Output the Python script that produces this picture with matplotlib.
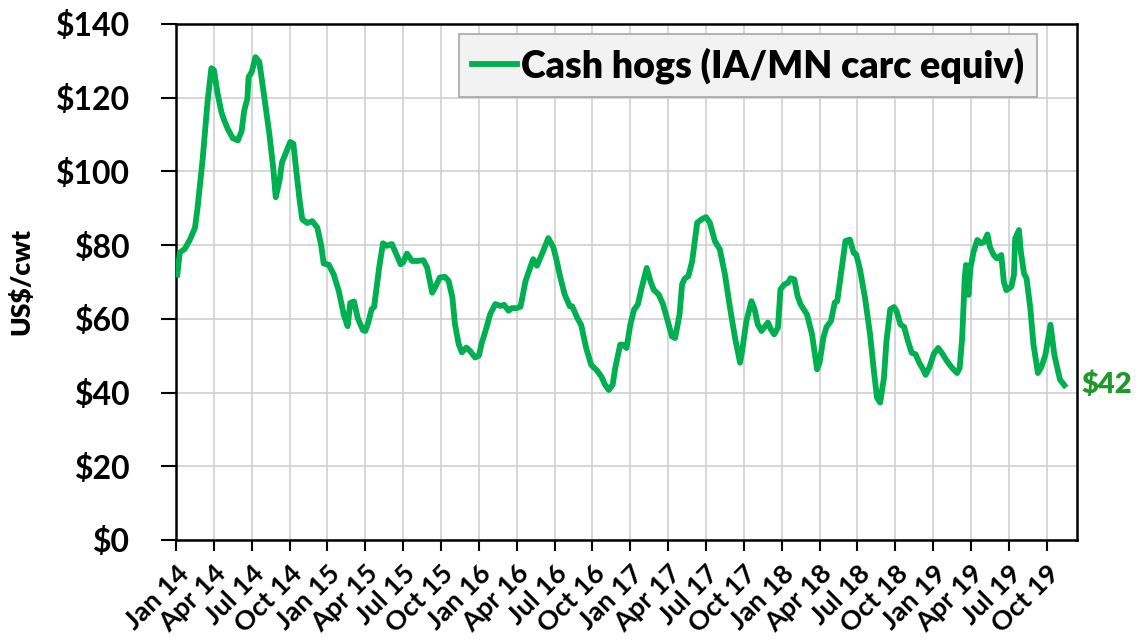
import matplotlib
matplotlib.use("Agg")
import matplotlib.pyplot as plt
import matplotlib.transforms as mtransforms

plt.rcParams['font.family'] = ['Lato', 'DejaVu Sans']
plt.rcParams['font.weight'] = 'bold'

# months since Jan 2014 and cash hog price, US$/cwt
months = [
    0.1, 0.3, 0.7, 1.1, 1.5, 1.7, 2.1, 2.5, 2.8, 3.0, 3.3, 3.6, 3.8, 4.1, 4.5, 4.9,
    5.2, 5.4, 5.65, 5.75, 6.0, 6.3, 6.6, 7.0, 7.4, 7.7, 7.9, 8.2, 8.4, 8.7, 9.05, 9.3,
    9.5, 9.8, 10.0, 10.4, 10.8, 11.2, 11.5, 11.7, 12.1, 12.5, 12.9, 13.3, 13.6, 13.8,
    14.1, 14.4, 14.8, 15.0, 15.2, 15.5, 15.7, 16.1, 16.4, 16.7, 17.1, 17.45, 17.8,
    18.0, 18.3, 18.7, 19.1, 19.6, 19.9, 20.3, 20.6, 20.9, 21.3, 21.6, 21.9, 22.1,
    22.4, 22.65, 23.0, 23.3, 23.7, 24.0, 24.2, 24.6, 24.9, 25.3, 25.7, 26.0, 26.35,
    26.6, 27.0, 27.3, 27.7, 28.3, 28.6, 29.0, 29.5, 29.9, 30.15, 30.4, 30.8, 31.2,
    31.4, 31.8, 32.1, 32.5, 32.9, 33.3, 33.7, 34.0, 34.3, 34.6, 34.8, 35.2, 35.4,
    35.7, 36.0, 36.3, 36.6, 36.9, 37.3, 37.6, 37.85, 38.25, 38.6, 39.0, 39.3, 39.55,
    39.9, 40.1, 40.3, 40.6, 40.9, 41.3, 41.65, 42.0, 42.3, 42.7, 43.1, 43.5, 43.9,
    44.3, 44.7, 44.9, 45.2, 45.6, 45.85, 46.1, 46.4, 46.6, 46.9, 47.15, 47.4, 47.7,
    47.9, 48.2, 48.5, 48.7, 49.0, 49.25, 49.5, 49.8, 50.0, 50.4, 50.8, 51.0, 51.3,
    51.55, 51.9, 52.2, 52.4, 52.8, 53.05, 53.4, 53.7, 53.9, 54.2, 54.6, 55.0, 55.3,
    55.55, 55.8, 56.1, 56.3, 56.6, 56.9, 57.1, 57.4, 57.7, 58.0, 58.3, 58.6, 58.9,
    59.2, 59.4, 59.7, 60.05, 60.4, 60.7, 61.1, 61.5, 61.9, 62.1, 62.3, 62.5, 62.6,
    62.8, 62.95, 63.2, 63.5, 63.8, 64.05, 64.3, 64.5, 64.8, 65.05, 65.4, 65.6, 65.8,
    66.2, 66.4, 66.5, 66.8, 66.95, 67.2, 67.4, 67.7, 67.95, 68.3, 68.6, 68.9, 69.3,
    69.6, 70.05, 70.4,
]
price = [
    72, 78, 79, 81.5, 84.7, 90, 103, 119, 128, 127.5, 121, 116, 114, 111.5, 109, 108.4,
    111, 116.5, 119.7, 125.6, 127, 131, 129.7, 120, 110, 101, 93, 97.5, 102.5, 105, 108, 107.5,
    101, 92, 87, 86, 86.5, 84.7, 80, 75, 74.7, 72, 67.5, 61, 58, 64.3,
    64.7, 60.2, 57, 56.7, 58.6, 62.6, 63.3, 74, 80.5, 79.8, 80.3, 77.6, 74.8,
    75.3, 77.7, 75.7, 75.7, 75.9, 73.9, 67.1, 69, 71.2, 71.4, 70.3, 65.8, 58.6,
    53.1, 50.9, 52.2, 51.3, 49.5, 50, 53.1, 57.6, 61.3, 64, 63.5, 63.8, 62.2,
    62.9, 62.9, 63.3, 70.3, 76.2, 74.4, 77.6, 81.9, 79.4, 76, 72, 66.6, 63.4,
    63.4, 60.2, 58.4, 52.1, 47.5, 46.2, 44.4, 42.1, 40.7, 42.1, 46.6, 53, 53,
    52.1, 58.4, 62.5, 63.9, 68.4, 73.8, 70.2, 67.9, 66.6, 63.9, 58.9, 55.2, 54.8,
    61.1, 69.3, 70.9, 71.6, 75.6, 86.1, 87, 87.6, 86.1, 81.1, 78.8, 72, 63,
    54.8, 48.1, 52.2, 59.4, 64.8, 62.6, 58.5, 56.7, 57.6, 59, 57.1, 55.8, 57.6,
    68, 69.3, 69.8, 71, 70.7, 66.2, 63.9, 62.3, 61.2, 55.8, 46.3, 48.1, 54.9,
    57.8, 59.4, 64.4, 64.8, 74.8, 81.1, 81.5, 77.9, 77.5, 73.4, 65.7, 55.8, 45.9,
    38.6, 37.3, 44, 54, 62.6, 63.2, 62.1, 58.5, 57.8, 54, 50.8, 50.4, 48.1,
    46.3, 44.8, 46.8, 50.5, 52.1, 50.7, 48.5, 46.7, 45.3, 46.7, 54.8, 71, 74.6,
    66.5, 73.7, 78.2, 81.4, 80.5, 80.9, 82.9, 79.5, 77.3, 76.4, 77.3, 70.1, 67.8,
    68.7, 71.9, 81.8, 84.1, 78.2, 72.3, 71, 62.9, 53, 45.3, 47.1, 50.3, 58.4,
    50.3, 43.5, 42,
]

tick_labels = [f"{m} {y}" for y in range(14, 20) for m in ["Jan", "Apr", "Jul", "Oct"]]
tick_pos = [3 * i for i in range(len(tick_labels))]
y_ticks = [0, 20, 40, 60, 80, 100, 120, 140]

line_green = "#00b050"
label_green = "#1f9a2a"

fig = plt.figure(figsize=(11.38, 6.41), dpi=100)
ax = fig.add_axes([0.1547, 0.1576, 0.7917, 0.805])

ax.plot(months, price, color=line_green, lw=4.2, solid_joinstyle='round',
        label="Cash hogs (IA/MN carc equiv)", zorder=3)

ax.set_xlim(0, 71.4)
ax.set_ylim(0, 140)
ax.set_xticks(tick_pos)
ax.set_xticklabels(tick_labels, rotation=45, ha='right', va='top',
                   rotation_mode='anchor', fontsize=19.5, fontweight='bold')
shift = mtransforms.ScaledTranslation(7 / 100, 0, fig.dpi_scale_trans)
for lab in ax.get_xticklabels():
    lab.set_transform(lab.get_transform() + shift)
ax.set_yticks(y_ticks)
ax.set_yticklabels([f"${v}" for v in y_ticks], fontsize=23, fontweight='bold')
ax.tick_params(axis='y', length=11, width=1.5, pad=22)
ax.tick_params(axis='x', length=8, width=1.5, pad=7)

ax.grid(True, color="#d0d0d0", lw=1.2)
ax.set_axisbelow(True)
for s in ax.spines.values():
    s.set_linewidth(1.8)
    s.set_color("black")

ax.set_ylabel("US$/cwt", fontsize=19, fontweight='heavy')
ax.yaxis.set_label_coords(-0.158, 0.5)

leg = ax.legend(loc='upper right', bbox_to_anchor=(0.956, 0.981), borderaxespad=0,
                prop={'weight': 'heavy', 'size': 27}, handlelength=1.2,
                handletextpad=0.1, borderpad=0.35, fancybox=False, framealpha=1)
leg.get_frame().set_facecolor("#f2f2f2")
leg.get_frame().set_edgecolor("#a6a6a6")
leg.get_frame().set_linewidth(1.2)

ax.annotate(f"${price[-1]:.0f}", xy=(1.0, price[-1]), xycoords=('axes fraction', 'data'),
            xytext=(3, 0), textcoords='offset points', ha='left', va='center',
            color=label_green, fontsize=21, fontweight='heavy', annotation_clip=False)

fig.savefig("out.png", dpi=100)
